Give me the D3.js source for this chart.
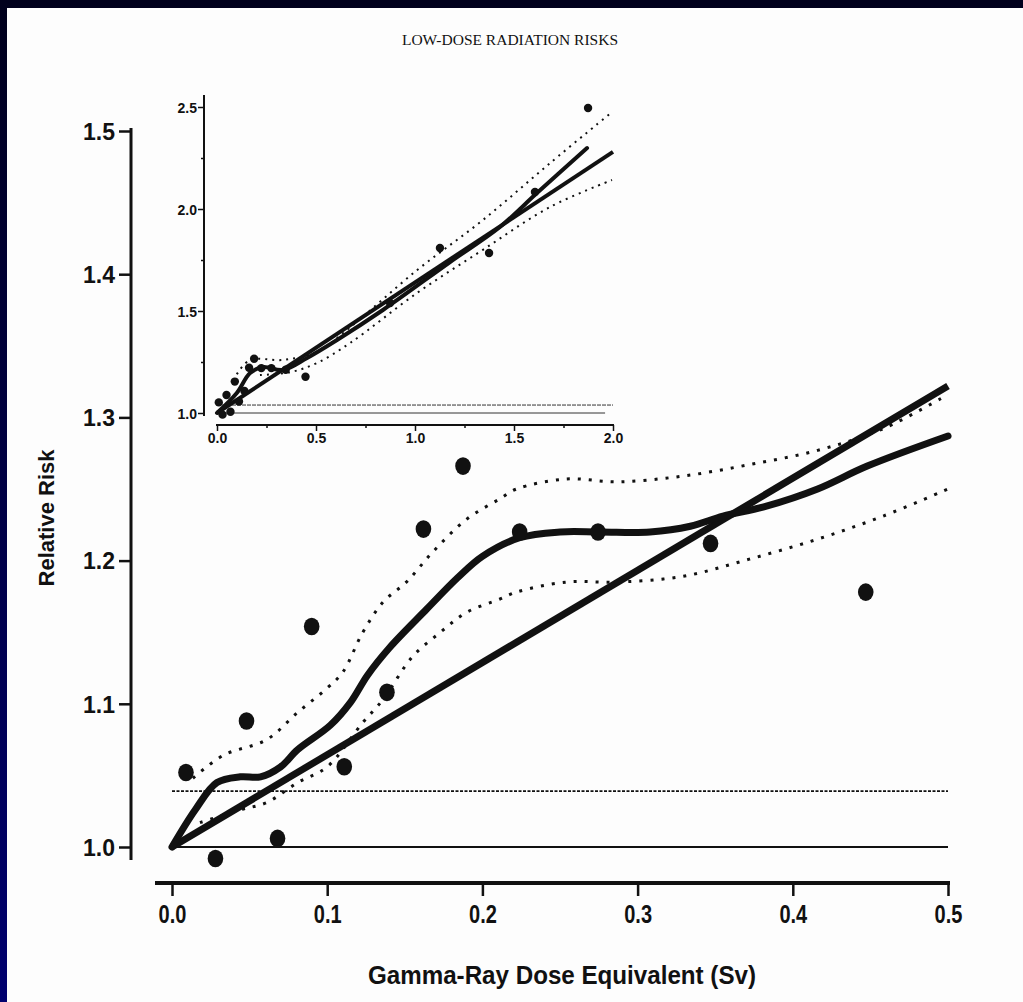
<!DOCTYPE html>
<html>
<head>
<meta charset="utf-8">
<script src="https://cdn.jsdelivr.net/npm/d3@7"></script>
<style>
  html, body { margin: 0; padding: 0; }
  body { width: 1023px; height: 1002px; overflow: hidden;
         background: linear-gradient(#00001c, #00006e); }
  svg { display: block; }
</style>
</head>
<body>
<svg id="viz" width="1023" height="1002"></svg>
<script>
// main panel data
var doseX   = [0.009, 0.028, 0.048, 0.068, 0.090, 0.111, 0.1385, 0.162, 0.1875, 0.224, 0.2745, 0.347, 0.447];
var riskY   = [1.052, 0.992, 1.088, 1.006, 1.154, 1.056, 1.108, 1.222, 1.266, 1.220, 1.220, 1.212, 1.178];

var fitX = [0, 0.5];
var fitY = [1.0, 1.322];

var smoothX = [0, 0.015, 0.029, 0.044, 0.057, 0.070, 0.081, 0.102, 0.115, 0.126, 0.140, 0.164, 0.184, 0.200, 0.224, 0.250, 0.276, 0.308, 0.334, 0.355, 0.383, 0.416, 0.448, 0.500];
var smoothY = [1.0, 1.026, 1.045, 1.049, 1.049, 1.056, 1.068, 1.085, 1.101, 1.120, 1.139, 1.166, 1.188, 1.203, 1.216, 1.220, 1.220, 1.220, 1.224, 1.231, 1.238, 1.250, 1.266, 1.287];

var upperX = [0.0135, 0.033, 0.061, 0.081, 0.100, 0.110, 0.123, 0.136, 0.151, 0.168, 0.190, 0.211, 0.222, 0.254, 0.287, 0.329, 0.372, 0.416, 0.458, 0.500];
var upperY = [1.048, 1.064, 1.075, 1.094, 1.111, 1.122, 1.150, 1.171, 1.185, 1.206, 1.229, 1.243, 1.250, 1.257, 1.255, 1.259, 1.267, 1.277, 1.292, 1.316];

var lowerX = [0.018, 0.044, 0.061, 0.081, 0.100, 0.123, 0.136, 0.155, 0.173, 0.190, 0.211, 0.222, 0.254, 0.287, 0.329, 0.372, 0.416, 0.458, 0.500];
var lowerY = [1.017, 1.026, 1.031, 1.045, 1.056, 1.087, 1.103, 1.133, 1.150, 1.164, 1.173, 1.178, 1.185, 1.185, 1.189, 1.201, 1.215, 1.231, 1.250];

var baseRisk = 1.0;
var refRisk = 1.039;

var xTicks = [0, 0.1, 0.2, 0.3, 0.4, 0.5];
var yTicks = [1.0, 1.1, 1.2, 1.3, 1.4, 1.5];

// inset panel data (full dose range)
var inX = [0.009, 0.028, 0.048, 0.068, 0.090, 0.111, 0.1385, 0.162, 0.1875, 0.224, 0.2745, 0.347, 0.447, 0.874, 1.126, 1.374, 1.606, 1.874];
var inY = [1.052, 0.992, 1.088, 1.006, 1.154, 1.056, 1.108, 1.222, 1.266, 1.220, 1.220, 1.212, 1.178, 1.539, 1.809, 1.784, 2.083, 2.495];

var inFitX = [0, 2.0];
var inFitY = [1.0, 2.28];

var inSmoothX = [0, 0.10, 0.167, 0.232, 0.333, 0.455, 0.606, 0.838, 1.177, 1.429, 1.616, 1.869];
var inSmoothY = [1.0, 1.098, 1.196, 1.225, 1.211, 1.27, 1.358, 1.505, 1.740, 1.912, 2.078, 2.299];

var inUpperX = [0.10, 0.167, 0.333, 0.505, 0.672, 1.01, 1.343, 1.682, 1.995];
var inUpperY = [1.19, 1.26, 1.26, 1.30, 1.42, 1.70, 1.946, 2.225, 2.475];

var inLowerX = [0.217, 0.369, 0.505, 0.672, 1.01, 1.343, 1.682, 1.995];
var inLowerY = [1.186, 1.20, 1.245, 1.343, 1.588, 1.80, 2.01, 2.142];

var inXTicks = [0, 0.5, 1.0, 1.5, 2.0];
var inYTicks = [1.0, 1.5, 2.0, 2.5];

var ink = "#111";
var sans = "Liberation Sans, Arial, sans-serif";
var svg = d3.select("#viz");

// scanned page
svg.append("rect").attr("x", 7).attr("y", 8).attr("width", 1016).attr("height", 994).attr("fill", "#fdfdfd");

svg.append("text").attr("x", 510).attr("y", 45).attr("text-anchor", "middle")
  .attr("font-family", "Liberation Serif, Times New Roman, serif").attr("font-size", 15.5)
  .attr("fill", ink).text("LOW-DOSE RADIATION RISKS");

function zip(xs, ys) { return xs.map(function(v, i) { return [v, ys[i]]; }); }

// ---- main panel ----
var x = d3.scaleLinear().domain([0, 0.5]).range([172, 948]);
var y = d3.scaleLinear().domain([1.0, 1.5]).range([847, 131]);

var line = d3.line().x(function(d) { return x(d[0]); }).y(function(d) { return y(d[1]); });
var smooth = d3.line().curve(d3.curveCatmullRom).x(function(d) { return x(d[0]); }).y(function(d) { return y(d[1]); });

var yAx = svg.append("g").attr("transform", "translate(130,0)")
  .call(d3.axisLeft(y).tickValues(yTicks).tickFormat(d3.format(".1f")).tickSize(11).tickSizeOuter(0).tickPadding(4));
yAx.select(".domain").remove();
yAx.selectAll(".tick line").attr("stroke", ink).attr("stroke-width", 2.5);
yAx.selectAll(".tick text").attr("fill", ink).attr("font-family", sans)
  .attr("font-weight", "bold").attr("font-size", 23).attr("dy", "0.36em");
svg.append("line").attr("x1", 131).attr("x2", 131).attr("y1", y(1.5) - 3).attr("y2", y(0.991))
  .attr("stroke", ink).attr("stroke-width", 3);

var xAx = svg.append("g").attr("transform", "translate(0,883)")
  .call(d3.axisBottom(x).tickValues(xTicks).tickFormat(d3.format(".1f")).tickSize(13).tickSizeOuter(0).tickPadding(9));
xAx.select(".domain").remove();
xAx.selectAll(".tick line").attr("stroke", ink).attr("stroke-width", 2.5);
// condensed look of the scanned labels
xAx.selectAll(".tick text").attr("fill", ink).attr("font-family", sans)
  .attr("font-weight", "bold").attr("font-size", 25)
  .attr("transform", "translate(0,22) scale(0.8,1) translate(0,-22)");
svg.append("line").attr("x1", 155).attr("x2", x(0.5) + 2).attr("y1", 883).attr("y2", 883)
  .attr("stroke", ink).attr("stroke-width", 4);

svg.append("text").attr("x", 562).attr("y", 984).attr("text-anchor", "middle")
  .attr("font-family", sans).attr("font-weight", "bold").attr("font-size", 25)
  .attr("textLength", 388).attr("lengthAdjust", "spacingAndGlyphs")
  .attr("fill", ink).text("Gamma-Ray Dose Equivalent (Sv)");

svg.append("text").attr("transform", "translate(54,518) rotate(-90)").attr("text-anchor", "middle")
  .attr("font-family", sans).attr("font-weight", "bold").attr("font-size", 22)
  .attr("fill", ink).text("Relative Risk");

// reference lines
svg.append("line").attr("x1", x(0)).attr("x2", x(0.5)).attr("y1", y(baseRisk)).attr("y2", y(baseRisk))
  .attr("stroke", ink).attr("stroke-width", 2.2);
svg.append("line").attr("x1", x(0)).attr("x2", x(0.5)).attr("y1", y(refRisk)).attr("y2", y(refRisk))
  .attr("stroke", ink).attr("stroke-width", 1.6).attr("stroke-dasharray", "3,1.5");

// confidence bands
[zip(upperX, upperY), zip(lowerX, lowerY)].forEach(function(b) {
  svg.append("path").attr("d", smooth(b)).attr("fill", "none").attr("stroke", ink)
    .attr("stroke-width", 3).attr("stroke-dasharray", "3,8");
});

// linear fit and smooth fit
svg.append("path").attr("d", line(zip(fitX, fitY))).attr("fill", "none").attr("stroke", ink).attr("stroke-width", 7);
svg.append("path").attr("d", smooth(zip(smoothX, smoothY))).attr("fill", "none").attr("stroke", ink)
  .attr("stroke-width", 7).attr("stroke-linecap", "round");

svg.append("g").selectAll("ellipse").data(zip(doseX, riskY)).enter().append("ellipse")
  .attr("cx", function(d) { return x(d[0]); }).attr("cy", function(d) { return y(d[1]); })
  .attr("rx", 7.8).attr("ry", 8.8).attr("fill", ink);

// ---- inset ----
var ix = d3.scaleLinear().domain([0, 2.0]).range([217, 613]);
var iy = d3.scaleLinear().domain([1.0, 2.5]).range([413, 107]);
var iline = d3.line().x(function(d) { return ix(d[0]); }).y(function(d) { return iy(d[1]); });
var ismooth = d3.line().curve(d3.curveCatmullRom).x(function(d) { return ix(d[0]); }).y(function(d) { return iy(d[1]); });

var iyAx = svg.append("g").attr("transform", "translate(204,0)")
  .call(d3.axisLeft(iy).tickValues(inYTicks).tickFormat(d3.format(".1f")).tickSize(6).tickSizeOuter(0).tickPadding(1));
iyAx.select(".domain").remove();
iyAx.selectAll(".tick line").attr("stroke", ink).attr("stroke-width", 1.5);
iyAx.selectAll(".tick text").attr("fill", ink).attr("font-family", sans)
  .attr("font-weight", "bold").attr("font-size", 14).attr("dy", "0.36em");
svg.append("g").attr("transform", "translate(204,0)")
  .call(d3.axisLeft(iy).tickValues([1.25, 1.75, 2.25]).tickFormat("").tickSize(3).tickSizeOuter(0))
  .call(function(g) { g.select(".domain").remove(); g.selectAll("line").attr("stroke", ink).attr("stroke-width", 1.5); });
svg.append("line").attr("x1", 204).attr("x2", 204).attr("y1", 95).attr("y2", 416)
  .attr("stroke", ink).attr("stroke-width", 2);

var ixAx = svg.append("g").attr("transform", "translate(0,425)")
  .call(d3.axisBottom(ix).tickValues(inXTicks).tickFormat(d3.format(".1f")).tickSize(6).tickSizeOuter(0).tickPadding(2));
ixAx.select(".domain").remove();
ixAx.selectAll(".tick line").attr("stroke", ink).attr("stroke-width", 1.5);
ixAx.selectAll(".tick text").attr("fill", ink).attr("font-family", sans)
  .attr("font-weight", "bold").attr("font-size", 14);
svg.append("g").attr("transform", "translate(0,425)")
  .call(d3.axisBottom(ix).tickValues([0.25, 0.75, 1.25, 1.75]).tickFormat("").tickSize(3).tickSizeOuter(0))
  .call(function(g) { g.select(".domain").remove(); g.selectAll("line").attr("stroke", ink).attr("stroke-width", 1.5); });
svg.append("line").attr("x1", ix(0) - 1).attr("x2", ix(2.0) + 1).attr("y1", 425).attr("y2", 425)
  .attr("stroke", ink).attr("stroke-width", 2);

svg.append("line").attr("x1", ix(0)).attr("x2", ix(1.96)).attr("y1", iy(baseRisk)).attr("y2", iy(baseRisk))
  .attr("stroke", "#333").attr("stroke-width", 1);
svg.append("line").attr("x1", ix(0)).attr("x2", ix(2.0)).attr("y1", iy(refRisk)).attr("y2", iy(refRisk))
  .attr("stroke", "#333").attr("stroke-width", 1).attr("stroke-dasharray", "4,1");

[zip(inUpperX, inUpperY), zip(inLowerX, inLowerY)].forEach(function(b) {
  svg.append("path").attr("d", ismooth(b)).attr("fill", "none").attr("stroke", ink)
    .attr("stroke-width", 2).attr("stroke-dasharray", "2,5");
});

svg.append("path").attr("d", iline(zip(inFitX, inFitY))).attr("fill", "none").attr("stroke", ink).attr("stroke-width", 4);
svg.append("path").attr("d", ismooth(zip(inSmoothX, inSmoothY))).attr("fill", "none").attr("stroke", ink)
  .attr("stroke-width", 4).attr("stroke-linecap", "round");

svg.append("g").selectAll("circle").data(zip(inX, inY)).enter().append("circle")
  .attr("cx", function(d) { return ix(d[0]); }).attr("cy", function(d) { return iy(d[1]); })
  .attr("r", 4.2).attr("fill", ink);
</script>
</body>
</html>
